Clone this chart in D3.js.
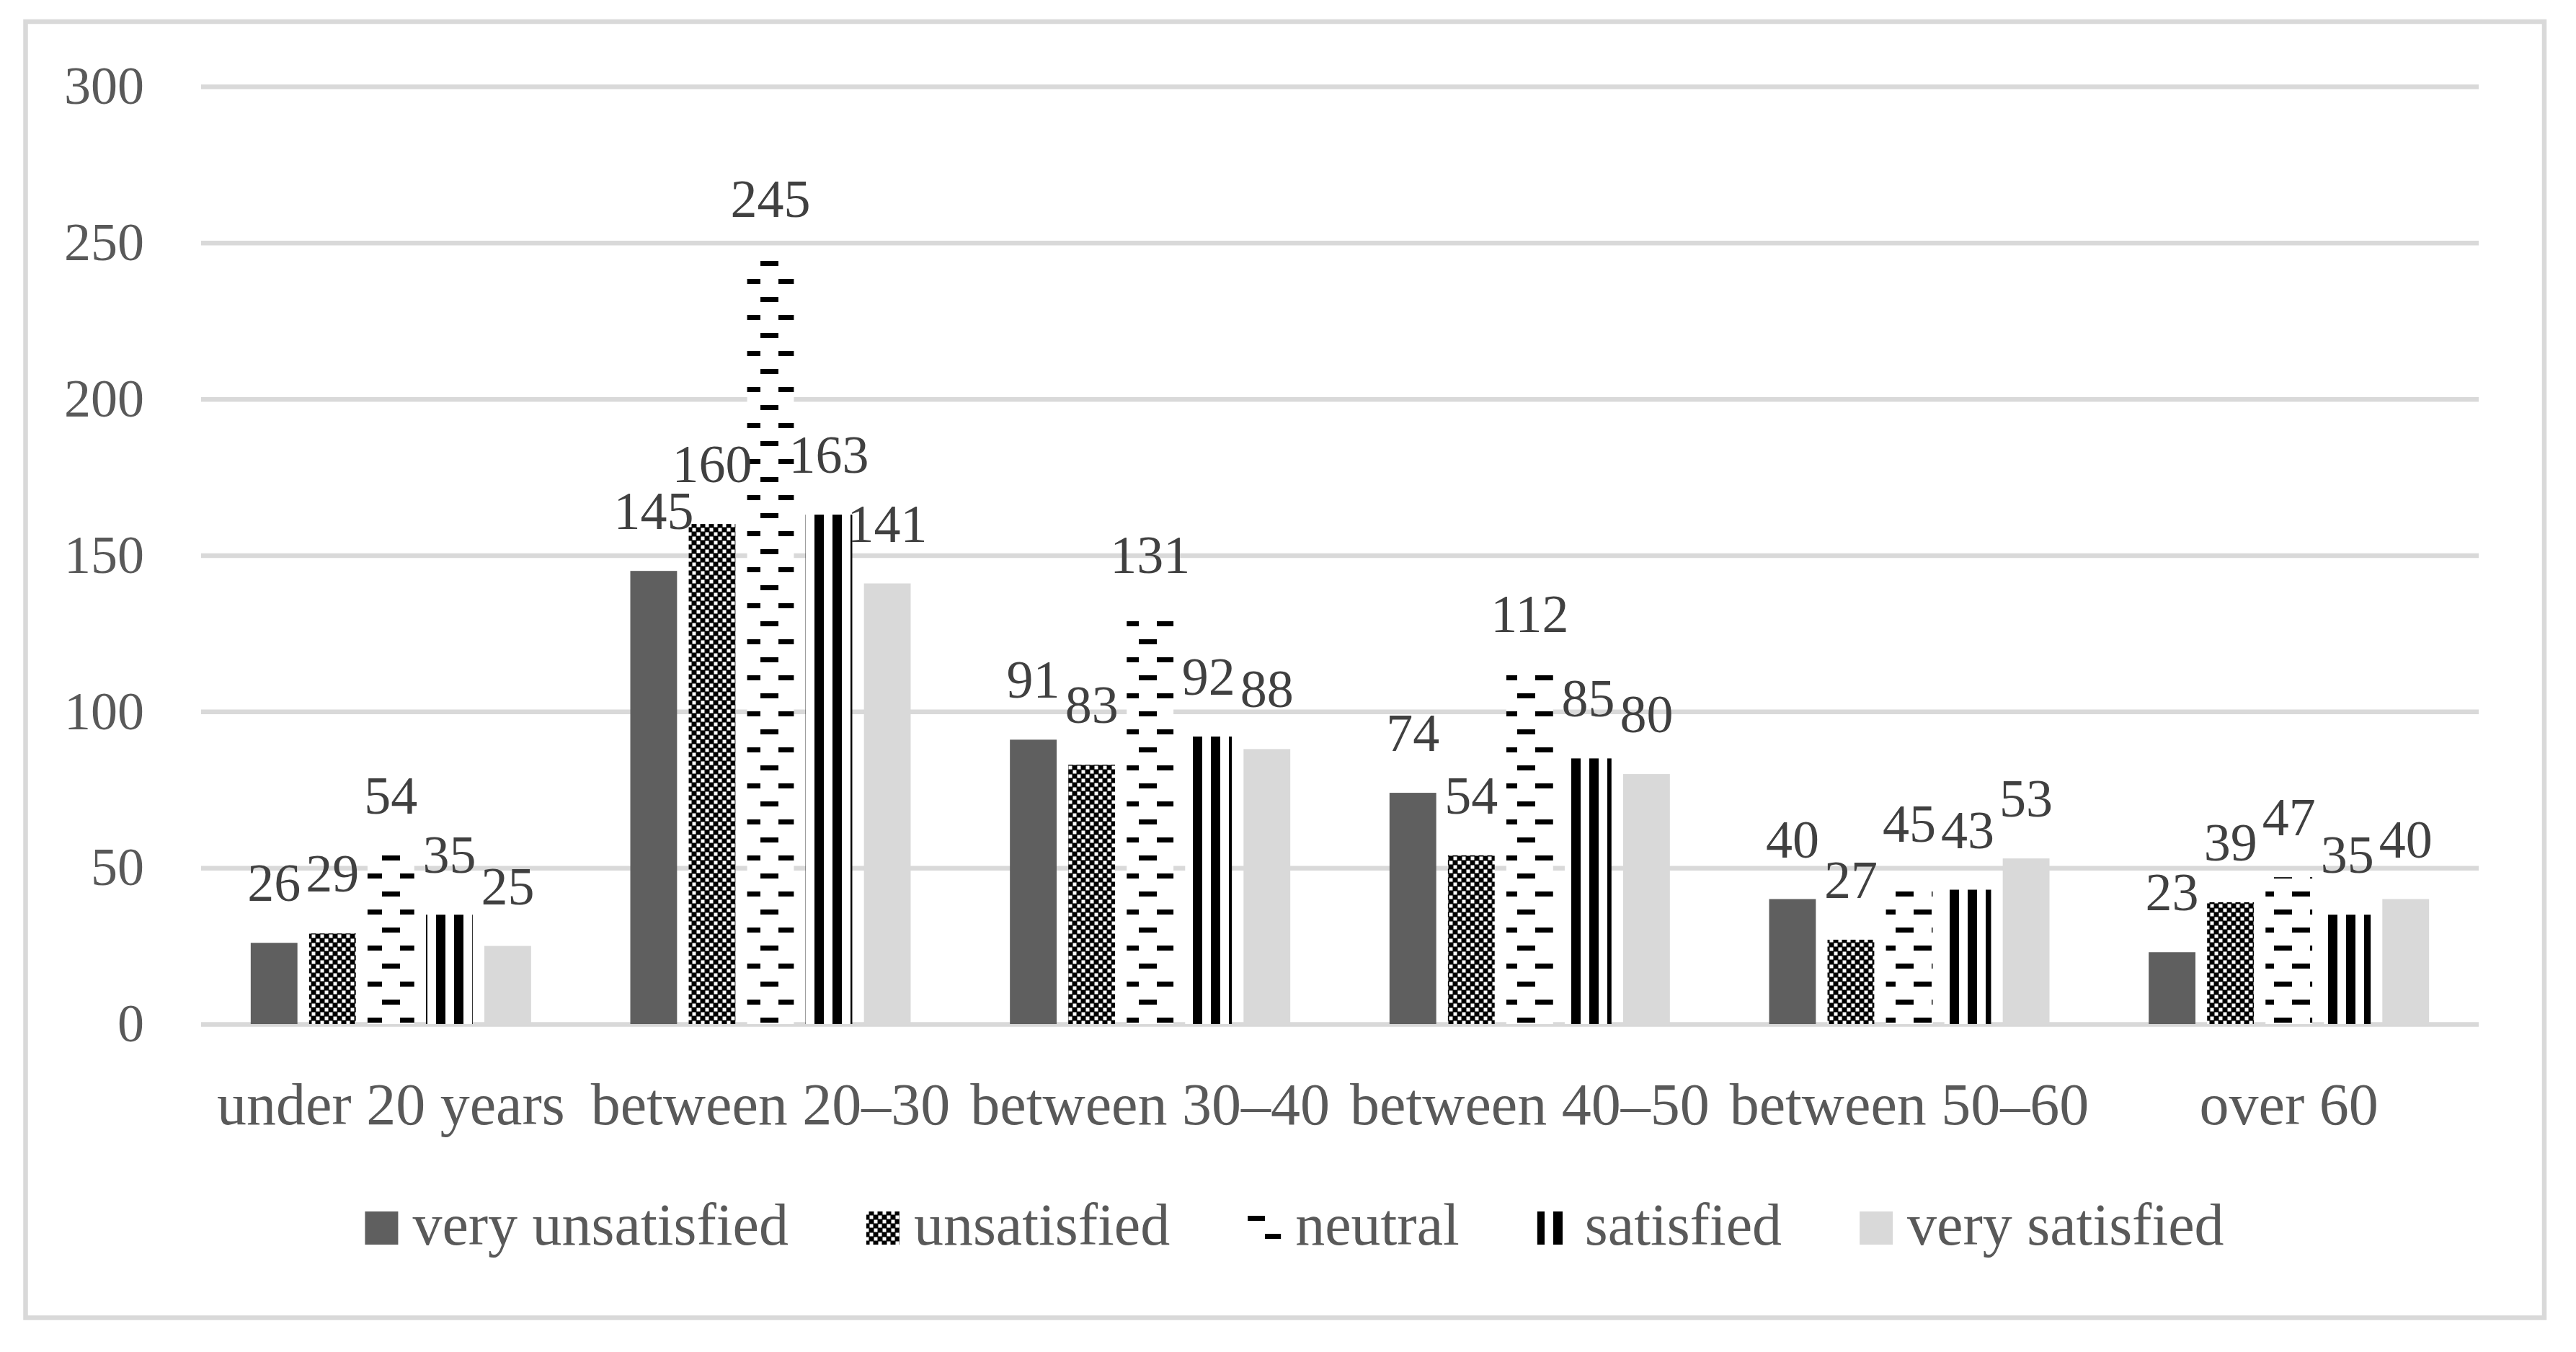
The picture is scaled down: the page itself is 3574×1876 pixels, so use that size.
<!DOCTYPE html>
<html>
<head>
<meta charset="utf-8">
<script src="https://cdn.jsdelivr.net/npm/d3@7"></script>
<style>
  body { margin: 0; background: #fff; }
</style>
</head>
<body>
<div id="vis"></div>
<script>
// data
const categories = ["under 20 years", "between 20\u201330", "between 30\u201340", "between 40\u201350", "between 50\u201360", "over 60"];
const series = ["very unsatisfied", "unsatisfied", "neutral", "satisfied", "very satisfied"];
const veryUnsatisfied = [26, 145, 91, 74, 40, 23];
const unsatisfied = [29, 160, 83, 54, 27, 39];
const neutral = [54, 245, 131, 112, 45, 47];
const satisfied = [35, 163, 92, 85, 43, 35];
const verySatisfied = [25, 141, 88, 80, 53, 40];
const yTicks = [0, 50, 100, 150, 200, 250, 300];

const values = [veryUnsatisfied, unsatisfied, neutral, satisfied, verySatisfied];

const W = 3574, H = 1876;
let margin = { top: 120, left: 279, right: W - 3439, bottom: H - 1421 },
  width = W - margin.left - margin.right,
  height = H - margin.top - margin.bottom;

const font = "'Liberation Serif', 'Times New Roman', serif";

let svg = d3
  .select("#vis")
  .append("svg")
  .attr("width", W)
  .attr("height", H)
  .attr("viewBox", [0, 0, W, H].join(" "))
  .style("background-color", "white");

// patterns, in page space so they line up like the original
const defs = svg.append("defs");

let pChk = defs.append("pattern").attr("id", "chk")
  .attr("patternUnits", "userSpaceOnUse").attr("width", 12).attr("height", 12);
pChk.append("rect").attr("width", 12).attr("height", 12).attr("fill", "#000");
pChk.append("rect").attr("x", 0.5).attr("y", 0.5).attr("width", 5).attr("height", 5).attr("fill", "#fff");
pChk.append("rect").attr("x", 6.5).attr("y", 6.5).attr("width", 5).attr("height", 5).attr("fill", "#fff");

let pNeu = defs.append("pattern").attr("id", "neu")
  .attr("patternUnits", "userSpaceOnUse").attr("width", 50).attr("height", 50);
pNeu.append("rect").attr("width", 50).attr("height", 50).attr("fill", "#fff");
pNeu.append("rect").attr("x", 5).attr("y", 12).attr("width", 25).attr("height", 7).attr("fill", "#000");
pNeu.append("rect").attr("x", 30).attr("y", 37).attr("width", 20).attr("height", 7).attr("fill", "#000");
pNeu.append("rect").attr("x", 0).attr("y", 37).attr("width", 5).attr("height", 7).attr("fill", "#000");

let pSat = defs.append("pattern").attr("id", "sat")
  .attr("patternUnits", "userSpaceOnUse").attr("width", 25).attr("height", 10);
pSat.append("rect").attr("width", 25).attr("height", 10).attr("fill", "#fff");
pSat.append("rect").attr("x", 5).attr("y", 0).attr("width", 13).attr("height", 10).attr("fill", "#000");

const fills = ["#5f5f5f", "url(#chk)", "url(#neu)", "url(#sat)", "#d9d9d9"];

// outer frame
svg.append("rect")
  .attr("x", 35.5).attr("y", 30)
  .attr("width", 3530 - 35.5).attr("height", 1828.5 - 30)
  .attr("fill", "none").attr("stroke", "#d9d9d9").attr("stroke-width", 6.5);

let x0 = d3.scaleBand().domain(categories).range([margin.left, margin.left + width]);
const groupW = 389;
let x1 = d3.scaleBand().domain(series).range([0, groupW]).paddingInner(0.2);
let y = d3.scaleLinear().domain([0, 300]).range([margin.top + height, margin.top]);

// y axis + gridlines
let yAxis = svg.append("g")
  .attr("transform", `translate(${margin.left},0)`)
  .call(d3.axisLeft(y).tickValues(yTicks).tickSize(-width).tickPadding(79));
yAxis.select(".domain").remove();
yAxis.selectAll("line").attr("stroke", "#d9d9d9").attr("stroke-width", 6.5);
yAxis.selectAll("text")
  .style("font-family", font).style("font-size", "74px").attr("fill", "#595959");

// x axis labels
let xAxis = svg.append("g")
  .attr("transform", `translate(0,${margin.top + height})`)
  .call(d3.axisBottom(x0).tickSize(0).tickPadding(81));
xAxis.select(".domain").remove();
xAxis.selectAll("text")
  .style("font-family", font).style("font-size", "82px").attr("fill", "#595959");

// bars
const rows = [];
categories.forEach((c, i) => {
  series.forEach((s, j) => rows.push({ c: c, s: s, j: j, v: values[j][i] }));
});
const barX = (d) => x0(d.c) + (x0.bandwidth() - groupW) / 2 + x1(d.s);

svg.append("g").selectAll("rect")
  .data(rows)
  .join("rect")
  .attr("x", barX)
  .attr("y", (d) => y(d.v))
  .attr("width", x1.bandwidth())
  .attr("height", (d) => y(0) - y(d.v))
  .attr("fill", (d) => fills[d.j]);

// value labels
svg.append("g").selectAll("text")
  .data(rows)
  .join("text")
  .attr("x", (d) => barX(d) + x1.bandwidth() / 2)
  .attr("y", (d) => y(d.v) - 58)
  .attr("text-anchor", "middle")
  .style("font-family", font).style("font-size", "74px")
  .attr("fill", "#404040")
  .text((d) => d.v);

// legend
let legend = svg.append("g");
let items = legend.selectAll("g").data(series).join("g");
items.append("rect")
  .attr("y", 1681).attr("width", 46).attr("height", 46)
  .attr("fill", (d, i) => fills[i]);
items.append("text")
  .attr("x", 66).attr("y", 1727)
  .style("font-family", font).style("font-size", "82px")
  .attr("fill", "#595959")
  .text((d) => d);

let widths = [];
items.each(function () {
  widths.push(66 + d3.select(this).select("text").node().getComputedTextLength());
});
const gap = 108;
const total = d3.sum(widths) + gap * (widths.length - 1);
let cx = 1796 - total / 2;
items.each(function (d, i) {
  // shift rect & text rather than the group, keeps patterns in page space
  d3.select(this).select("rect").attr("x", cx);
  d3.select(this).select("text").attr("x", cx + 66);
  cx += widths[i] + gap;
});
</script>
</body>
</html>
